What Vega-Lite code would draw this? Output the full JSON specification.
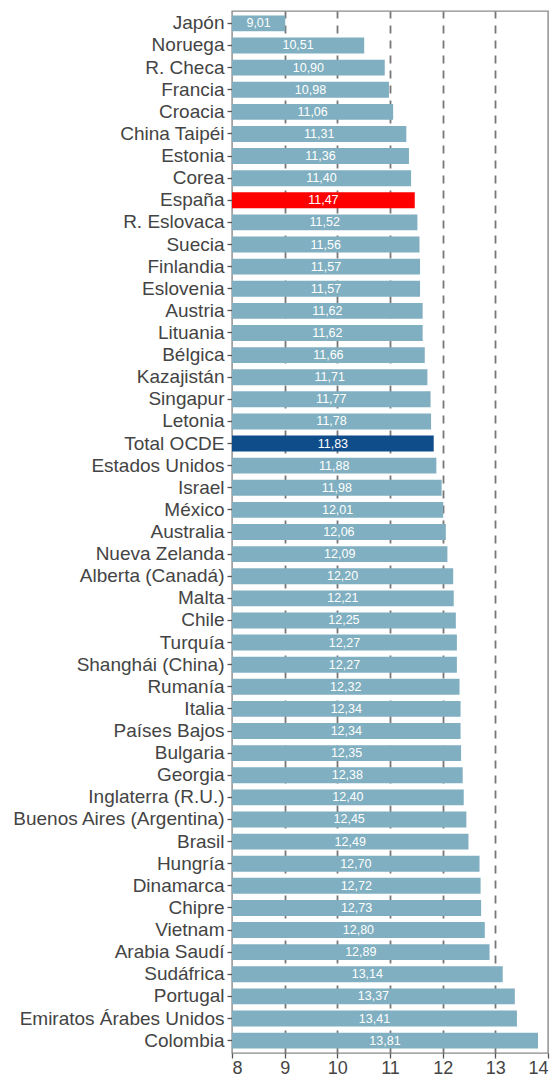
{
  "$schema": "https://vega.github.io/schema/vega-lite/v6.json",
  "autosize": {"type": "none"},
  "width": 316,
  "height": 1042,
  "padding": {"left": 232, "top": 11, "right": 11, "bottom": 28},
  "background": "white",
  "config": {
    "view": {"stroke": "#8a8a8a", "strokeWidth": 1.4},
    "font": "Liberation Sans"
  },
  "data": {
    "values": [
      {"pais": "Japón", "valor": 9.01, "etiqueta": "9,01", "grupo": "otro"},
      {"pais": "Noruega", "valor": 10.51, "etiqueta": "10,51", "grupo": "otro"},
      {"pais": "R. Checa", "valor": 10.90, "etiqueta": "10,90", "grupo": "otro"},
      {"pais": "Francia", "valor": 10.98, "etiqueta": "10,98", "grupo": "otro"},
      {"pais": "Croacia", "valor": 11.06, "etiqueta": "11,06", "grupo": "otro"},
      {"pais": "China Taipéi", "valor": 11.31, "etiqueta": "11,31", "grupo": "otro"},
      {"pais": "Estonia", "valor": 11.36, "etiqueta": "11,36", "grupo": "otro"},
      {"pais": "Corea", "valor": 11.40, "etiqueta": "11,40", "grupo": "otro"},
      {"pais": "España", "valor": 11.47, "etiqueta": "11,47", "grupo": "España"},
      {"pais": "R. Eslovaca", "valor": 11.52, "etiqueta": "11,52", "grupo": "otro"},
      {"pais": "Suecia", "valor": 11.56, "etiqueta": "11,56", "grupo": "otro"},
      {"pais": "Finlandia", "valor": 11.57, "etiqueta": "11,57", "grupo": "otro"},
      {"pais": "Eslovenia", "valor": 11.57, "etiqueta": "11,57", "grupo": "otro"},
      {"pais": "Austria", "valor": 11.62, "etiqueta": "11,62", "grupo": "otro"},
      {"pais": "Lituania", "valor": 11.62, "etiqueta": "11,62", "grupo": "otro"},
      {"pais": "Bélgica", "valor": 11.66, "etiqueta": "11,66", "grupo": "otro"},
      {"pais": "Kazajistán", "valor": 11.71, "etiqueta": "11,71", "grupo": "otro"},
      {"pais": "Singapur", "valor": 11.77, "etiqueta": "11,77", "grupo": "otro"},
      {"pais": "Letonia", "valor": 11.78, "etiqueta": "11,78", "grupo": "otro"},
      {"pais": "Total OCDE", "valor": 11.83, "etiqueta": "11,83", "grupo": "OCDE"},
      {"pais": "Estados Unidos", "valor": 11.88, "etiqueta": "11,88", "grupo": "otro"},
      {"pais": "Israel", "valor": 11.98, "etiqueta": "11,98", "grupo": "otro"},
      {"pais": "México", "valor": 12.01, "etiqueta": "12,01", "grupo": "otro"},
      {"pais": "Australia", "valor": 12.06, "etiqueta": "12,06", "grupo": "otro"},
      {"pais": "Nueva Zelanda", "valor": 12.09, "etiqueta": "12,09", "grupo": "otro"},
      {"pais": "Alberta (Canadá)", "valor": 12.20, "etiqueta": "12,20", "grupo": "otro"},
      {"pais": "Malta", "valor": 12.21, "etiqueta": "12,21", "grupo": "otro"},
      {"pais": "Chile", "valor": 12.25, "etiqueta": "12,25", "grupo": "otro"},
      {"pais": "Turquía", "valor": 12.27, "etiqueta": "12,27", "grupo": "otro"},
      {"pais": "Shanghái (China)", "valor": 12.27, "etiqueta": "12,27", "grupo": "otro"},
      {"pais": "Rumanía", "valor": 12.32, "etiqueta": "12,32", "grupo": "otro"},
      {"pais": "Italia", "valor": 12.34, "etiqueta": "12,34", "grupo": "otro"},
      {"pais": "Países Bajos", "valor": 12.34, "etiqueta": "12,34", "grupo": "otro"},
      {"pais": "Bulgaria", "valor": 12.35, "etiqueta": "12,35", "grupo": "otro"},
      {"pais": "Georgia", "valor": 12.38, "etiqueta": "12,38", "grupo": "otro"},
      {"pais": "Inglaterra (R.U.)", "valor": 12.40, "etiqueta": "12,40", "grupo": "otro"},
      {"pais": "Buenos Aires (Argentina)", "valor": 12.45, "etiqueta": "12,45", "grupo": "otro"},
      {"pais": "Brasil", "valor": 12.49, "etiqueta": "12,49", "grupo": "otro"},
      {"pais": "Hungría", "valor": 12.70, "etiqueta": "12,70", "grupo": "otro"},
      {"pais": "Dinamarca", "valor": 12.72, "etiqueta": "12,72", "grupo": "otro"},
      {"pais": "Chipre", "valor": 12.73, "etiqueta": "12,73", "grupo": "otro"},
      {"pais": "Vietnam", "valor": 12.80, "etiqueta": "12,80", "grupo": "otro"},
      {"pais": "Arabia Saudí", "valor": 12.89, "etiqueta": "12,89", "grupo": "otro"},
      {"pais": "Sudáfrica", "valor": 13.14, "etiqueta": "13,14", "grupo": "otro"},
      {"pais": "Portugal", "valor": 13.37, "etiqueta": "13,37", "grupo": "otro"},
      {"pais": "Emiratos Árabes Unidos", "valor": 13.41, "etiqueta": "13,41", "grupo": "otro"},
      {"pais": "Colombia", "valor": 13.81, "etiqueta": "13,81", "grupo": "otro"}
    ]
  },
  "encoding": {
    "y": {
      "field": "pais",
      "type": "nominal",
      "sort": null,
      "title": null,
      "scale": {"paddingInner": 0.28, "paddingOuter": 0.2},
      "axis": {
        "domain": false,
        "ticks": true,
        "tickColor": "#555555",
        "tickSize": 5,
        "tickWidth": 1.3,
        "labelPadding": 3,
        "labelFontSize": 19,
        "labelColor": "#444444",
        "labelFont": "Liberation Sans",
        "labelLimit": 300,
        "grid": false
      }
    }
  },
  "layer": [
    {
      "mark": {"type": "bar"},
      "encoding": {
        "x": {
          "field": "valor",
          "type": "quantitative",
          "title": null,
          "scale": {"domain": [8, 14], "zero": false, "nice": false, "clamp": true},
          "axis": {
            "values": [8, 9, 10, 11, 12, 13, 14],
            "domain": false,
            "grid": true,
            "gridColor": "#777777",
            "gridDash": [8, 7],
            "gridWidth": 1.8,
            "gridOpacity": {"condition": {"test": "datum.value == 8 || datum.value == 14", "value": 0}, "value": 1},
            "tickColor": "#555555",
            "tickSize": 5,
            "tickWidth": 1.3,
            "labelFontSize": 18,
            "labelColor": "#444444",
            "labelFont": "Liberation Sans",
            "labelPadding": 1
          }
        },
        "x2": {"datum": 8},
        "color": {
          "field": "grupo",
          "type": "nominal",
          "scale": {"domain": ["otro", "España", "OCDE"], "range": ["#7fafc0", "#ff0000", "#0e4c8a"]},
          "legend": null
        }
      }
    },
    {
      "mark": {"type": "text", "color": "white", "fontSize": 12.5, "font": "Liberation Sans", "align": "center", "baseline": "middle"},
      "encoding": {
        "x": {
          "field": "valor",
          "type": "quantitative",
          "scale": {"domain": [8, 20], "zero": false, "nice": false},
          "axis": null
        },
        "text": {"field": "etiqueta"}
      }
    }
  ],
  "resolve": {"scale": {"x": "independent"}}
}
